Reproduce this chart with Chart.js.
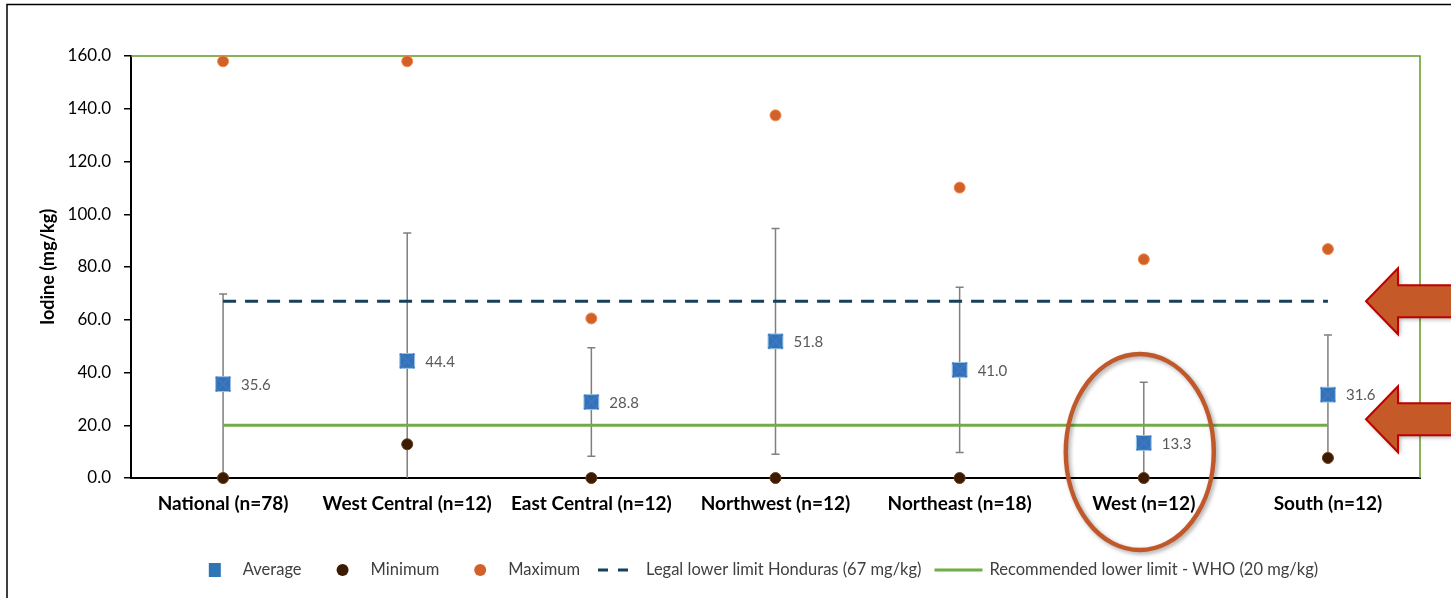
<!DOCTYPE html>
<html><head><meta charset="utf-8">
<script src="https://cdn.jsdelivr.net/npm/chart.js@4.4.0/dist/chart.umd.min.js"></script>
<style>html,body{margin:0;padding:0;background:#fff;}canvas{display:block;}</style>
</head><body>
<canvas id="c" width="1451" height="598"></canvas>
<script>
const categories = ['National (n=78)','West Central (n=12)','East Central (n=12)','Northwest (n=12)','Northeast (n=18)','West (n=12)','South (n=12)'];
const averageValues = [35.6, 44.4, 28.8, 51.8, 41.0, 13.3, 31.6];
const sdValues = [34.2, 48.5, 20.6, 42.8, 31.3, 23.0, 22.6];
const minimumValues = [0, 12.8, 0, 0, 0, 0, 7.6];
const maximumValues = [158, 158, 60.5, 137.5, 110.1, 82.9, 86.8];
const legalLimitValues = [67, 67, 67, 67, 67, 67, 67];
const whoLimitValues = [20, 20, 20, 20, 20, 20, 20];
const yTickMin = 0, yTickMax = 160, yTickStep = 20;
const highlightIndex = 5;

const FONT = 'Lato, "Open Sans", sans-serif';

const errorBars = {
  id: 'errorBars',
  beforeDatasetsDraw(chart) {
    const {ctx, chartArea: a, scales: {x, y}} = chart;
    ctx.save();
    ctx.strokeStyle = '#5E9A1F'; ctx.lineWidth = 1.5;
    ctx.beginPath(); ctx.moveTo(a.left, a.top); ctx.lineTo(a.right, a.top); ctx.lineTo(a.right, a.bottom); ctx.stroke();
    ctx.beginPath(); ctx.rect(a.left, a.top, a.right - a.left, a.bottom - a.top); ctx.clip();
    ctx.strokeStyle = '#7F7F7F'; ctx.lineWidth = 1.5;
    averageValues.forEach((v, i) => {
      const px = x.getPixelForValue(i);
      const yt = y.getPixelForValue(v + sdValues[i]);
      const yb = y.getPixelForValue(v - sdValues[i]);
      ctx.beginPath();
      ctx.moveTo(px, yt); ctx.lineTo(px, yb);
      ctx.moveTo(px - 4, yt); ctx.lineTo(px + 4, yt);
      ctx.moveTo(px - 4, yb); ctx.lineTo(px + 4, yb);
      ctx.stroke();
    });
    ctx.restore();
  }
};

const dataLabels = {
  id: 'dataLabels',
  afterDatasetsDraw(chart) {
    const {ctx} = chart;
    const meta = chart.getDatasetMeta(0);
    ctx.save();
    ctx.font = '15px ' + FONT; ctx.fillStyle = '#595959';
    ctx.textAlign = 'left'; ctx.textBaseline = 'middle';
    meta.data.forEach((pt, i) => ctx.fillText(averageValues[i].toFixed(1), pt.x + 18, pt.y + 1));
    ctx.restore();
  }
};

const customLegend = {
  id: 'customLegend',
  afterDraw(chart) {
    const {ctx, chartArea: a} = chart;
    const items = chart.data.datasets.filter(d => !d.label.startsWith('_')).map(d => {
      let kind = 'circle';
      if (d.pointStyle === 'rect') kind = 'rect';
      if (d.showLine !== false) kind = d.borderDash ? 'dash' : 'line';
      return {text: d.label, kind, color: kind === 'dash' || kind === 'line' ? d.borderColor : d.backgroundColor};
    });
    ctx.save();
    ctx.font = '16.5px ' + FONT;
    const spec = {rect: [12, 22, 35], circle: [12, 22, 35], dash: [36, 12, 18], line: [48, 7, 13]};
    let total = 0;
    items.forEach((it, i) => {
      const [mw, g, gb] = spec[it.kind];
      it.w = ctx.measureText(it.text).width;
      if (i > 0) total += gb;
      total += mw + g + it.w;
    });
    let cx = (a.left + a.right) / 2 - 12 - total / 2;
    const cy = 570;
    items.forEach((it, i) => {
      const [mw, g, gb] = spec[it.kind];
      if (i > 0) cx += gb;
      ctx.fillStyle = it.color; ctx.strokeStyle = it.color;
      if (it.kind === 'rect') {
        ctx.fillRect(cx, cy - 7, 12, 14);
      } else if (it.kind === 'circle') {
        ctx.beginPath(); ctx.arc(cx + 6, cy, 6, 0, Math.PI * 2); ctx.fill();
      } else {
        ctx.lineWidth = 3;
        ctx.setLineDash(it.kind === 'dash' ? [10, 10] : []);
        ctx.beginPath(); ctx.moveTo(cx, cy); ctx.lineTo(cx + mw, cy); ctx.stroke();
        ctx.setLineDash([]);
      }
      cx += mw + g;
      ctx.fillStyle = '#404040'; ctx.textAlign = 'left'; ctx.textBaseline = 'middle';
      ctx.fillText(it.text, cx, cy);
      cx += it.w;
    });
    ctx.restore();
  }
};

const annotations = {
  id: 'annotations',
  afterDraw(chart) {
    const {ctx, chartArea: a, scales: {x, y}, width, height} = chart;
    ctx.save();
    ctx.strokeStyle = '#000'; ctx.lineWidth = 1.5;
    ctx.beginPath(); ctx.moveTo(7, height); ctx.lineTo(7, 4.5); ctx.lineTo(width, 4.5); ctx.stroke();
    ctx.shadowColor = 'rgba(0,0,0,0.35)'; ctx.shadowBlur = 4; ctx.shadowOffsetX = 2; ctx.shadowOffsetY = 2;
    ctx.strokeStyle = '#C0582A'; ctx.lineWidth = 4.5;
    ctx.beginPath();
    ctx.ellipse(x.getPixelForValue(highlightIndex) - 4, a.bottom - 26, 74, 98, 0, 0, Math.PI * 2);
    ctx.stroke();
    const arrow = (cyv) => {
      const tx = a.right - 54;
      ctx.beginPath();
      ctx.moveTo(tx, cyv);
      ctx.lineTo(tx + 32, cyv - 33);
      ctx.lineTo(tx + 32, cyv - 16);
      ctx.lineTo(width + 10, cyv - 16);
      ctx.lineTo(width + 10, cyv + 16);
      ctx.lineTo(tx + 32, cyv + 16);
      ctx.lineTo(tx + 32, cyv + 33);
      ctx.closePath();
      ctx.fillStyle = '#C55A28'; ctx.fill();
      ctx.shadowColor = 'transparent';
      ctx.strokeStyle = '#C00000'; ctx.lineWidth = 2; ctx.stroke();
      ctx.shadowColor = 'rgba(0,0,0,0.35)';
    };
    arrow(y.getPixelForValue(legalLimitValues[0]));
    arrow(y.getPixelForValue(whoLimitValues[0]) - 6);
    ctx.restore();
  }
};

new Chart(document.getElementById('c'), {
  type: 'line',
  data: {
    labels: categories,
    datasets: [
      {label: 'Average', data: averageValues, showLine: false, pointStyle: 'rect', pointRadius: 10.5,
       backgroundColor: '#2E75B6', borderColor: '#9DC3E6', borderWidth: 1, order: 1, clip: false},
      {label: 'Minimum', data: minimumValues, showLine: false, pointStyle: 'circle', pointRadius: 5.5,
       backgroundColor: '#3B1B02', borderColor: '#6B3A12', borderWidth: 1, order: 2, clip: false},
      {label: 'Maximum', data: maximumValues, showLine: false, pointStyle: 'circle', pointRadius: 5.5,
       backgroundColor: '#D0612B', borderColor: '#F08A4B', borderWidth: 1, order: 2, clip: false},
      {label: 'Legal lower limit Honduras (67 mg/kg)', data: legalLimitValues, borderColor: '#17405A',
       backgroundColor: '#17405A', borderWidth: 3, borderDash: [13, 9], pointRadius: 0, order: 5, clip: false},
      {label: 'Recommended lower limit - WHO (20 mg/kg)', data: whoLimitValues, borderColor: '#70AD47',
       backgroundColor: '#70AD47', borderWidth: 3, pointRadius: 0, order: 5, clip: false},
      {label: '_cross', data: averageValues, showLine: false, pointStyle: 'crossRot', pointRadius: 10,
       borderColor: '#4472C4', borderWidth: 2, order: 0, clip: false}
    ]
  },
  options: {
    responsive: false, animation: false, events: [], devicePixelRatio: 1,
    layout: {padding: {top: 56, right: 31, bottom: 80, left: 0}},
    plugins: {legend: {display: false}, tooltip: {enabled: false}},
    scales: {
      x: {
        offset: true,
        grid: {display: true, drawOnChartArea: false, drawTicks: false},
        border: {display: true, color: '#000', width: 2},
        ticks: {color: '#000', font: {family: FONT, size: 19, weight: 'bold'}, padding: 14, maxRotation: 0, autoSkip: false},
        afterFit(s) { s.height = 40; }
      },
      y: {
        min: yTickMin, max: yTickMax,
        grid: {drawOnChartArea: false, drawTicks: true, tickLength: 7, color: '#000', lineWidth: 1.5},
        border: {display: true, color: '#000', width: 2},
        ticks: {stepSize: yTickStep, color: '#000', padding: 13, font: {family: FONT, size: 17},
                callback: v => Number(v).toFixed(1)},
        title: {display: true, text: 'Iodine (mg/kg)', color: '#000', font: {family: FONT, size: 18, weight: 'bold'},
                padding: {top: 37, bottom: 0}},
        afterFit(s) { s.width = 131; }
      }
    }
  },
  plugins: [errorBars, dataLabels, customLegend, annotations]
});
</script>
</body></html>
